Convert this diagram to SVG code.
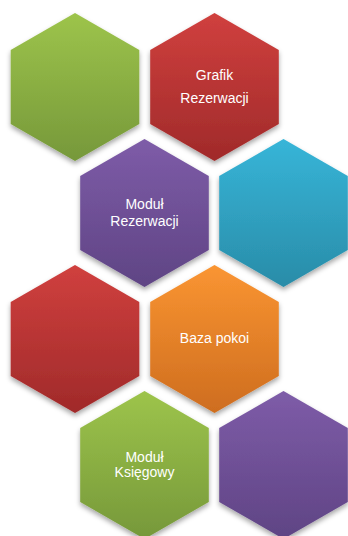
<svg xmlns="http://www.w3.org/2000/svg" width="348" height="536" viewBox="0 0 348 536">
  <defs>
    <linearGradient id="gGreen" x1="0" y1="0" x2="0" y2="1">
      <stop offset="0" stop-color="#9DC44B"/>
      <stop offset="1" stop-color="#76983A"/>
    </linearGradient>
    <linearGradient id="gRed" x1="0" y1="0" x2="0" y2="1">
      <stop offset="0" stop-color="#D0403E"/>
      <stop offset="1" stop-color="#A02A2A"/>
    </linearGradient>
    <linearGradient id="gPurple" x1="0" y1="0" x2="0" y2="1">
      <stop offset="0" stop-color="#7E5CA8"/>
      <stop offset="1" stop-color="#5F4484"/>
    </linearGradient>
    <linearGradient id="gBlue" x1="0" y1="0" x2="0" y2="1">
      <stop offset="0" stop-color="#37B5D8"/>
      <stop offset="1" stop-color="#298CA8"/>
    </linearGradient>
    <linearGradient id="gOrange" x1="0" y1="0" x2="0" y2="1">
      <stop offset="0" stop-color="#FA9532"/>
      <stop offset="1" stop-color="#CE6D1F"/>
    </linearGradient>
    <filter id="shadow" x="-20%" y="-20%" width="140%" height="140%">
      <feDropShadow dx="0" dy="3" stdDeviation="2.5" flood-color="#000" flood-opacity="0.35"/>
    </filter>
  </defs>
  <style>
    .hex { filter: url(#shadow); }
    .lbl { font-family: "Liberation Sans", "Noto Sans", Arial, sans-serif; font-size: 14px; fill: #FFFFFF; text-anchor: middle; }
  </style>

  <g id="hex-green-1" transform="translate(75,87)">
    <polygon class="hex" fill="url(#gGreen)" points="0,-74 64.3,-37 64.3,37 0,74 -64.3,37 -64.3,-37"/>
  </g>
  <g id="hex-grafik-rezerwacji" transform="translate(214.5,87)">
    <polygon class="hex" fill="url(#gRed)" points="0,-74 64.3,-37 64.3,37 0,74 -64.3,37 -64.3,-37"/>
    <text class="lbl" x="0" y="-7">Grafik</text>
    <text class="lbl" x="0" y="16.3">Rezerwacji</text>
  </g>
  <g id="hex-modul-rezerwacji" transform="translate(144.5,213)">
    <polygon class="hex" fill="url(#gPurple)" points="0,-74 64.3,-37 64.3,37 0,74 -64.3,37 -64.3,-37"/>
    <text class="lbl" x="0" y="-4">Moduł</text>
    <text class="lbl" x="0" y="12.7">Rezerwacji</text>
  </g>
  <g id="hex-blue" transform="translate(283.5,213)">
    <polygon class="hex" fill="url(#gBlue)" points="0,-74 64.3,-37 64.3,37 0,74 -64.3,37 -64.3,-37"/>
  </g>
  <g id="hex-red-2" transform="translate(75,339)">
    <polygon class="hex" fill="url(#gRed)" points="0,-74 64.3,-37 64.3,37 0,74 -64.3,37 -64.3,-37"/>
  </g>
  <g id="hex-baza-pokoi" transform="translate(214.5,339)">
    <polygon class="hex" fill="url(#gOrange)" points="0,-74 64.3,-37 64.3,37 0,74 -64.3,37 -64.3,-37"/>
    <text class="lbl" x="0" y="4">Baza pokoi</text>
  </g>
  <g id="hex-modul-ksiegowy" transform="translate(144.5,465)">
    <polygon class="hex" fill="url(#gGreen)" points="0,-74 64.3,-37 64.3,37 0,74 -64.3,37 -64.3,-37"/>
    <text class="lbl" x="0" y="-3.3">Moduł</text>
    <text class="lbl" x="0" y="12.3">Księgowy</text>
  </g>
  <g id="hex-purple-2" transform="translate(283.5,465)">
    <polygon class="hex" fill="url(#gPurple)" points="0,-74 64.3,-37 64.3,37 0,74 -64.3,37 -64.3,-37"/>
  </g>
  <g id="connectors"></g>
</svg>
